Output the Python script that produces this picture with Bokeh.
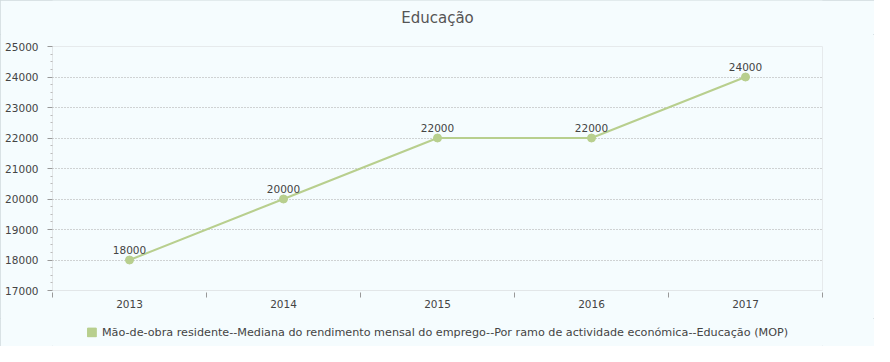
from bokeh.plotting import figure
from bokeh.layouts import column
from bokeh.models import (ColumnDataSource, FixedTicker, Legend, LegendItem, LabelSet)
from bokeh.core.properties import value
from bokeh.embed import file_html
from bokeh.resources import INLINE

years = ["2013", "2014", "2015", "2016", "2017"]
values = [18000, 20000, 22000, 22000, 24000]
series_name = "Mão-de-obra residente--Mediana do rendimento mensal do emprego--Por ramo de actividade económica--Educação (MOP)"
title_text = "Educação"
y_ticks = [17000, 18000, 19000, 20000, 21000, 22000, 23000, 24000, 25000]

GREEN = "#b8cf8e"
BG = "#f5fcfe"
FONT = "DejaVu Sans"
TXT = "#444444"
W = 874


def blank(h):
    f = figure(width=W, height=h, x_range=(0, 1), y_range=(0, 1), output_backend="svg",
               toolbar_location=None, x_axis_location=None, y_axis_location=None, min_border=0)
    f.background_fill_color = BG
    f.border_fill_color = BG
    f.outline_line_color = None
    f.xgrid.grid_line_color = None
    f.ygrid.grid_line_color = None
    return f


# title strip
tf = blank(34)
tf.text(x=[0.5], y=[0.5], text=[title_text], text_align="center", text_baseline="middle",
        text_font=value(FONT), text_font_size="15px", text_color="#555555")

# main chart
xs = [i + 0.5 for i in range(len(years))]
src = ColumnDataSource(dict(x=xs, y=values, lbl=[str(v) for v in values]))

p = figure(width=W, height=284, x_range=(0, len(years)), y_range=(y_ticks[0], y_ticks[-1]),
           output_backend="svg", toolbar_location=None,
           min_border_left=52, min_border_right=52, min_border_top=12, min_border_bottom=28)
p.background_fill_color = BG
p.border_fill_color = BG
p.outline_line_color = "#e6eaec"

p.line("x", "y", source=src, line_color=GREEN, line_width=2)
p.scatter("x", "y", source=src, size=8, fill_color=GREEN, line_color=GREEN)

labels = LabelSet(x="x", y="y", text="lbl", source=src, y_offset=6, text_align="center",
                  text_baseline="bottom", text_font=value(FONT), text_font_size=value("10.5px"),
                  text_color=TXT)
p.add_layout(labels)

# x axis: labels at centers, ticks at band edges (minor ticks)
xa = p.xaxis[0]
xa.ticker = FixedTicker(ticks=xs, minor_ticks=list(range(len(years) + 1)))
xa.major_label_overrides = {x: y for x, y in zip(xs, years)}
xa.major_tick_line_color = None
xa.major_tick_out = 0
xa.major_tick_in = 0
xa.minor_tick_line_color = "#999999"
xa.minor_tick_out = 7
xa.minor_tick_in = -2
xa.axis_line_color = "#e2e6e8"
xa.major_label_text_font = FONT
xa.major_label_text_font_size = "10.5px"
xa.major_label_text_color = TXT
xa.major_label_standoff = 2

ya = p.yaxis[0]
ya.ticker = FixedTicker(ticks=y_ticks, minor_ticks=[t + k * 250 for t in y_ticks[:-1] for k in (1, 2, 3)])
ya.major_tick_out = 5
ya.major_tick_in = 0
ya.major_tick_line_color = "#999999"
ya.minor_tick_out = 2
ya.minor_tick_in = 0
ya.minor_tick_line_color = "#bbbbbb"
ya.axis_line_color = "#e2e6e8"
ya.major_label_text_font = FONT
ya.major_label_text_font_size = "10.5px"
ya.major_label_text_color = TXT
ya.major_label_standoff = 9

p.xgrid.grid_line_color = None
p.ygrid.ticker = FixedTicker(ticks=y_ticks[1:-1])
p.ygrid.grid_line_color = "#a8a8a8"
p.ygrid.grid_line_dash = "1 2"

# legend strip (legend swatch proxy lies outside the visible range)
lf = blank(28)
proxy = ColumnDataSource(dict(left=[2], right=[3], top=[3], bottom=[2]))
sq = lf.quad(left="left", right="right", top="top", bottom="bottom", source=proxy,
             fill_color=GREEN, line_color=GREEN)
legend = Legend(items=[LegendItem(label=series_name, renderers=[sq])],
                orientation="horizontal", location="center",
                glyph_width=11, glyph_height=11, label_standoff=5,
                padding=2, margin=0, spacing=0,
                label_text_font=FONT, label_text_font_size="11.2px", label_text_color=TXT,
                background_fill_alpha=0, border_line_color=None)
lf.add_layout(legend)

layout = column(tf, p, lf, spacing=0)
layout.styles = {"background-color": BG, "outline": "1px solid #cfdadd", "outline-offset": "-1px"}

open("out.html", "w").write(file_html(layout, INLINE))
